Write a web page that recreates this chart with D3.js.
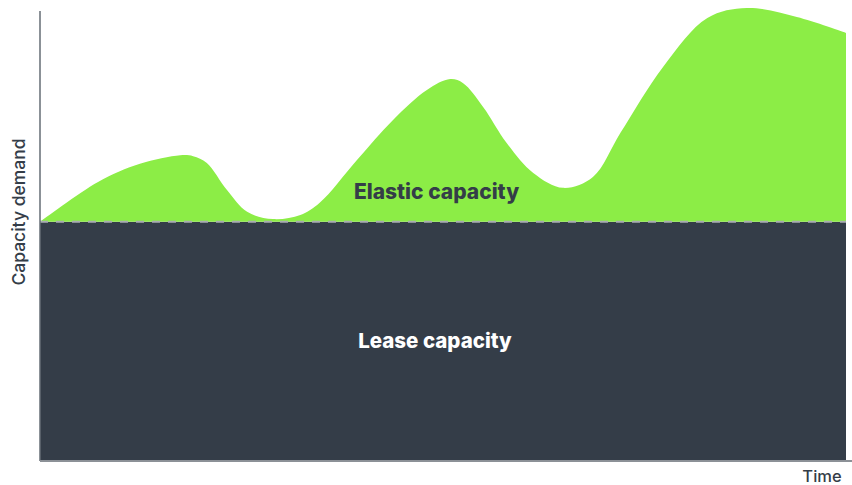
<!DOCTYPE html>
<html>
<head>
<meta charset="utf-8">
<script src="https://cdn.jsdelivr.net/npm/d3@7"></script>
<style>
  body { margin: 0; background: #fff; }
  text { font-family: Inter, "Noto Sans", sans-serif; }
</style>
</head>
<body>
<div id="chart"></div>
<script>
// time (0-100) and capacity demand (0-100)
const time = [0, 7.2, 12.4, 17.4, 19.0, 20.7, 23.2, 25.7, 28.9, 32.3, 34.7, 39.3, 43.8, 48.0,
  50.9, 52.5, 55.0, 57.9, 61.2, 64.9, 68.6, 72.0, 77.3, 82.8, 87.7, 93.9, 100];
const demand = [52.8, 61.6, 65.6, 67.5, 67.3, 65.8, 59.8, 55.0, 53.4, 54.3, 57.0, 66.4, 75.3, 81.9,
  84.3, 83.4, 78.1, 70.2, 63.6, 60.3, 62.7, 72.4, 87.0, 97.8, 100, 98.0, 94.5];
const leaseLevel = 52.8;
const labels = { elastic: "Elastic capacity", lease: "Lease capacity", xAxis: "Time", yAxis: "Capacity demand" };

const data = time.map((t, i) => ({ t: t, v: demand[i] }));

// set the dimensions and margins of the graph
const W = 852, H = 485;
const margin = { top: 8, right: 6, bottom: 24, left: 40 },
    width = W - margin.left - margin.right,
    height = H - margin.top - margin.bottom;

const svg = d3.select("#chart")
    .append("svg")
    .attr("width", W)
    .attr("height", H);

const g = svg.append("g")
    .attr("transform", `translate(${margin.left},${margin.top})`);

const x = d3.scaleLinear().domain([0, 100]).range([0, width]);
const y = d3.scaleLinear().domain([0, 100]).range([height, 0]);

// lease capacity block
g.append("rect")
    .attr("x", x(0))
    .attr("y", y(leaseLevel))
    .attr("width", x(100) - x(0))
    .attr("height", y(0) - y(leaseLevel))
    .attr("fill", "#343d48");

// elastic capacity area
const area = d3.area()
    .x(d => x(d.t))
    .y0(y(leaseLevel))
    .y1(d => y(d.v))
    .curve(d3.curveCatmullRom.alpha(0.5));

g.append("path")
    .datum(data)
    .attr("d", area)
    .attr("fill", "#8ced46");

// dashed lease line
g.append("line")
    .attr("x1", x(0))
    .attr("x2", x(100))
    .attr("y1", y(leaseLevel))
    .attr("y2", y(leaseLevel))
    .style("stroke", "#a9adb1")
    .style("stroke-width", 2)
    .style("stroke-dasharray", "8,8");

// axes (plain lines, no ticks)
g.append("line")
    .attr("x1", 0).attr("x2", 0)
    .attr("y1", 3).attr("y2", height)
    .style("stroke", "#646c75")
    .style("stroke-width", 1.5);

g.append("line")
    .attr("x1", 0).attr("x2", W - margin.left)
    .attr("y1", height).attr("y2", height)
    .style("stroke", "#8c9197")
    .style("stroke-width", 2);

// labels
g.append("text")
    .attr("x", x(49.2))
    .attr("y", y(59.5))
    .attr("text-anchor", "middle")
    .attr("dominant-baseline", "central")
    .style("font-size", "21px")
    .style("font-weight", 800)
    .style("fill", "#343d48")
    .text(labels.elastic);

g.append("text")
    .attr("x", x(49))
    .attr("y", y(26.5))
    .attr("text-anchor", "middle")
    .attr("dominant-baseline", "central")
    .style("font-size", "20.5px")
    .style("font-weight", 800)
    .style("fill", "#ffffff")
    .text(labels.lease);

svg.append("text")
    .attr("x", 822)
    .attr("y", 476)
    .attr("text-anchor", "middle")
    .attr("dominant-baseline", "central")
    .style("font-size", "16.5px")
    .style("font-weight", 500)
    .style("fill", "#343d48")
    .text(labels.xAxis);

svg.append("text")
    .attr("transform", "translate(18,212) rotate(-90)")
    .attr("text-anchor", "middle")
    .attr("dominant-baseline", "central")
    .style("font-size", "17.5px")
    .style("font-weight", 500)
    .style("fill", "#343d48")
    .text(labels.yAxis);
</script>
</body>
</html>
